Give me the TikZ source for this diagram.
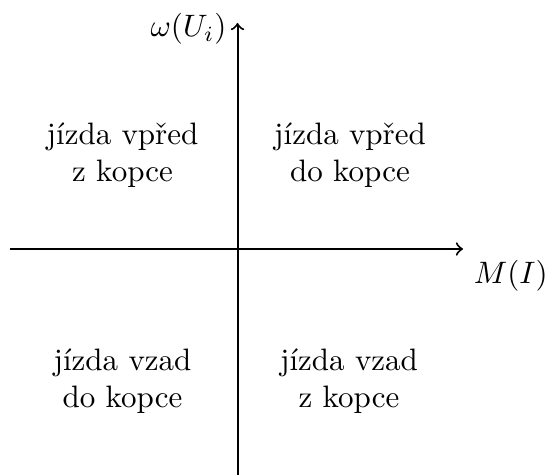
\documentclass[tikz,border=0pt]{standalone}
\begin{document}
\begin{tikzpicture}[x=0.3226pt,y=-0.3226pt,
  axis/.style={draw,line width=0.65pt,->},
  quad/.style={align=center,inner sep=0pt}]
\useasboundingbox (0,0) rectangle (547,474);
\coordinate (xl) at (10,249);
\coordinate (xr) at (463,249);
\coordinate (yb) at (237.5,480);
\coordinate (yt) at (237.5,23);
\draw[axis] (xl) -- (xr);
\draw[axis] (yb) -- (yt);
\node[anchor=north west] (mlab) at (xr) {$M(I)$};
\node[anchor=east] (wlab) at ([yshift=-2pt]yt) {$\omega(U_i)$};
\node[quad] (q1) at (122.5,155) {jízda vpřed\\z kopce};
\node[quad] (q2) at (350,155) {jízda vpřed\\do kopce};
\node[quad] (q3) at (122.5,381.5) {jízda vzad\\do kopce};
\node[quad] (q4) at (349,381.5) {jízda vzad\\z kopce};
\end{tikzpicture}
\end{document}
